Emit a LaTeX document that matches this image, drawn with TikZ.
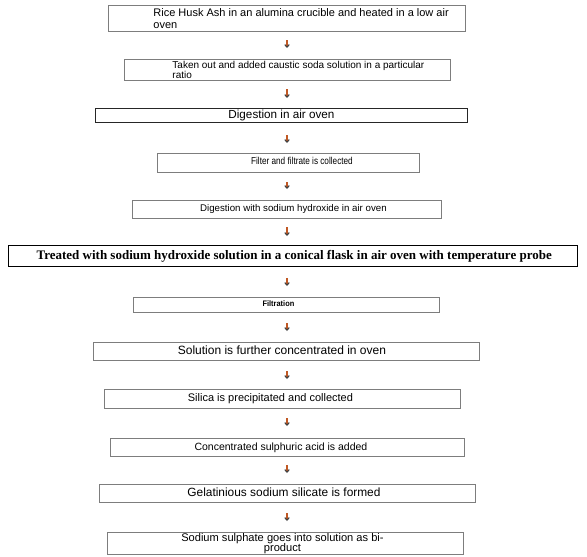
\documentclass[tikz,border=0pt]{standalone}
\usepackage{fontspec}
\setmainfont{Liberation Sans}
\newfontfamily\serifbold{Liberation Serif}
\usetikzlibrary{arrows.meta}
\definecolor{boxgray}{RGB}{125,125,125}
\definecolor{arrowcol}{RGB}{192,88,36}
\tikzset{
  stepbox/.style={draw=boxgray, line width=0.9pt, inner sep=0pt, anchor=north west, font=\fontsize{11}{11}\selectfont},
  bigbox/.style={draw=black, line width=1.4pt, inner sep=0pt, anchor=north west},
  flowarrow/.style={draw=arrowcol, line width=1.1pt, -{Straight Barb[length=2.6pt,width=4.6pt,black!75]}},
}
% shifted text: #1 = twice the x shift, #2 = raise, #3 = text
\newcommand{\shtext}[3]{\raisebox{#2}{\makebox[0pt][c]{\hspace*{#1}#3}}}
\begin{document}
\begin{tikzpicture}[x=1pt,y=-1pt]
\useasboundingbox (0,0) rectangle (587,557);
% 1
\node[stepbox, minimum width=357pt, minimum height=26pt] (b1) at (108,5)
  {\hspace*{45pt}\parbox[c]{312pt}{\fontsize{11}{11.5}\selectfont\raggedright Rice Husk Ash in an alumina crucible and heated in a low air oven\par}};
% 2
\node[stepbox, minimum width=326pt, minimum height=21pt] (b2) at (124,59)
  {\hspace*{48pt}\parbox[c]{278pt}{\fontsize{10}{9.5}\selectfont\raggedright Taken out and added caustic soda solution in a particular\\ratio\par}};
% 3
\node[stepbox, draw=black!85, minimum width=372pt, minimum height=14pt, font=\fontsize{11.7}{11.7}\selectfont] (b3) at (95,108) {\shtext{0pt}{1pt}{Digestion in air oven}};
% 4
\node[stepbox, minimum width=262pt, minimum height=19pt] (b4) at (157,153) {\shtext{27pt}{3.5pt}{\scalebox{0.82}[1]{\fontsize{10}{10}\selectfont Filter and filtrate is collected}}};
% 5
\node[stepbox, minimum width=309pt, minimum height=18pt, font=\fontsize{9.7}{9.7}\selectfont] (b5) at (132,200) {\shtext{13pt}{2pt}{Digestion with sodium hydroxide in air oven}};
% 6
\node[bigbox, minimum width=569pt, minimum height=21pt, font=\serifbold\bfseries\fontsize{13}{13}\selectfont] (b6) at (8,245) {\shtext{2pt}{1pt}{Treated with sodium hydroxide solution in a conical flask in air oven with temperature probe}};
% 7
\node[stepbox, minimum width=306pt, minimum height=15pt] (b7) at (133,297) {\shtext{-16pt}{3.5pt}{\scalebox{0.93}[1]{\fontsize{8}{8}\selectfont\bfseries Filtration}}};
% 8
\node[stepbox, minimum width=386pt, minimum height=18pt, font=\fontsize{12}{12}\selectfont] (b8) at (93,342) {\shtext{-9pt}{2pt}{Solution is further concentrated in oven}};
% 9
\node[stepbox, minimum width=356pt, minimum height=19pt] (b9) at (104,389) {\shtext{-24pt}{1.5pt}{Silica is precipitated and collected}};
% 10
\node[stepbox, minimum width=354pt, minimum height=18pt, font=\fontsize{10.5}{10.5}\selectfont] (b10) at (110,438) {\shtext{-13pt}{2.5pt}{Concentrated sulphuric acid is added}};
% 11
\node[stepbox, minimum width=376pt, minimum height=18pt, font=\fontsize{11.9}{11.9}\selectfont] (b11) at (99,484) {\shtext{-7pt}{2pt}{Gelatinious sodium silicate is formed}};
% 12
\node[stepbox, minimum width=356pt, minimum height=22pt] (b12) at (107,532)
  {\hspace*{-6pt}\parbox[c]{340pt}{\centering\fontsize{11.1}{10.5}\selectfont Sodium sulphate goes into solution as bi-\\product\par}};
% arrows
\foreach \a/\b/\s/\e in {b1/b2/8.5/11, b2/b3/8.5/10, b3/b4/12.5/10, b4/b5/9.5/11, b5/b6/8.5/9, b6/b7/10.5/11, b7/b8/10.5/11, b8/b9/10.5/10, b9/b10/9.5/12, b10/b11/8.5/11, b11/b12/10.5/11}
  \draw[flowarrow, shorten <=\s pt, shorten >=\e pt] (\a.south -| 287,0) -- (\b.north -| 287,0);
\end{tikzpicture}
\end{document}
